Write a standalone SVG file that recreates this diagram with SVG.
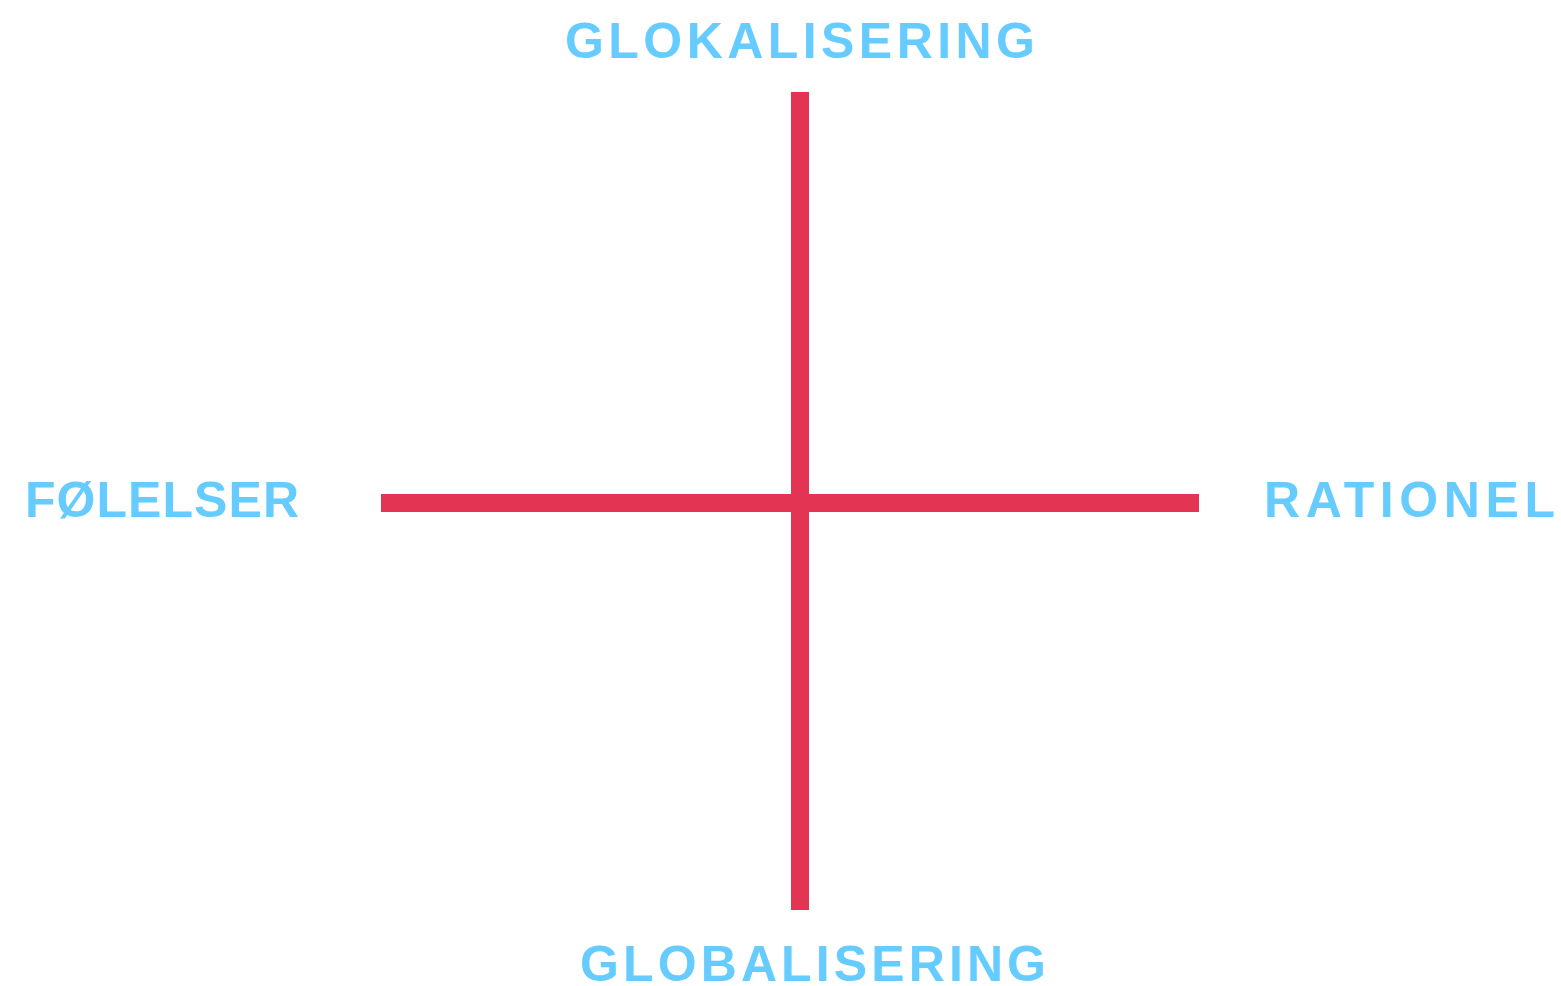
<svg xmlns="http://www.w3.org/2000/svg" width="1561" height="986" viewBox="0 0 1561 986">
<style>
.lbl{font-family:"Liberation Sans",Arial,sans-serif;font-weight:bold;font-size:50px;fill:#66CCFF}
.axis{stroke:#E33553;stroke-width:18;fill:none}
</style>
<rect width="1561" height="986" fill="#FFFFFF"/>
<g id="connectors">
<line class="axis" x1="800" y1="92" x2="800" y2="910"/>
<line class="axis" x1="381" y1="503" x2="1199" y2="503"/>
</g>
<g id="top"><text class="lbl" x="565" y="58" textLength="470" lengthAdjust="spacing">GLOKALISERING</text></g>
<g id="bottom"><text class="lbl" x="580" y="981" textLength="466" lengthAdjust="spacing">GLOBALISERING</text></g>
<g id="left"><text class="lbl" x="25" y="517" textLength="274" lengthAdjust="spacing">FØLELSER</text></g>
<g id="right"><text class="lbl" x="1264" y="517" textLength="291" lengthAdjust="spacing">RATIONEL</text></g>
</svg>
